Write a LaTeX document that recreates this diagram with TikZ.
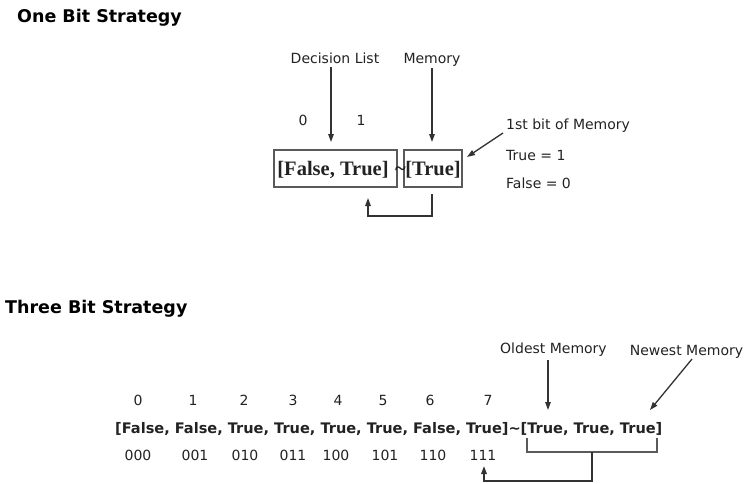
\documentclass[tikz,border=0pt]{standalone}
\usepackage{fontspec}
\setmainfont{DejaVu Sans}
\newfontfamily\boxserif{Liberation Serif}
\usetikzlibrary{arrows.meta}

\definecolor{ink}{HTML}{222222}
\definecolor{linegray}{HTML}{333333}
\definecolor{boxgray}{HTML}{5A5A5A}

\tikzset{
  title/.style={font=\fontsize{17.5}{20}\selectfont\bfseries, anchor=base west, inner sep=0pt, text=black},
  lbl/.style={font=\fontsize{14}{16}\selectfont, anchor=base, inner sep=0pt, text=ink},
  listtxt/.style={font=\fontsize{14.55}{16}\selectfont\bfseries, anchor=base west, inner sep=0pt, text=ink},
  memtxt/.style={font=\boxserif\bfseries\fontsize{20.5}{22}\selectfont, text=ink, inner sep=0pt},
  membox/.style={draw=boxgray, line width=1.8pt, minimum height=37pt, inner sep=0pt},
  arr/.style={draw=linegray, line width=1.3pt, -{Triangle[length=8pt,width=5.5pt]}},
  brk/.style={draw=boxgray, line width=1.6pt},
}

\begin{document}
\begin{tikzpicture}[x=1pt,y=-1pt]
\useasboundingbox (0,0) rectangle (744,483);

% ---------------- one bit strategy ----------------
\node[title] (t1) at (17,22) {One Bit Strategy};

\node[lbl] (dl)  at (335,63) {Decision List};
\node[lbl] (mem) at (432,63) {Memory};
\node[lbl] (i0)  at (303,125) {0};
\node[lbl] (i1)  at (361,125) {1};

\node[membox, minimum width=123pt] (box1) at (335.5,168.5) {};
\node[membox, minimum width=58pt]  (box2) at (433,168.5) {};
\node[memtxt, anchor=base] (txt1) at (333,175) {[False, True]};
\node[memtxt, anchor=base] (tilde) at (400.5,175) {\~{}};
\node[memtxt, anchor=base] (txt2) at (433,175) {[True]};

\coordinate (dltip)  at (331,142);
\coordinate (memtip) at (432,142);
\draw[arr] (dl.south -| dltip) ++(0,4) -- (dltip);
\draw[arr] (mem.south -| memtip) ++(0,2) -- (memtip);

\node[lbl, anchor=base west] (first) at (506,129) {1st bit of Memory};
\node[lbl, anchor=base west] (tv)    at (506,160) {True = 1};
\node[lbl, anchor=base west] (fv)    at (506,188) {False = 0};
\coordinate (firsttip) at (467,157);
\draw[arr] (503,133) -- (firsttip);

% feedback from memory to decision list
\coordinate (loopA) at (432,194);
\coordinate (loopB) at (368,198);
\draw[arr] (loopA) -- ++(0,22) -| (loopB);

% ---------------- three bit strategy ----------------
\node[title] (t3) at (5,313) {Three Bit Strategy};

\node[lbl] (old) at (553.5,353) {Oldest Memory};
\node[lbl] (new) at (686.5,355) {Newest Memory};

\foreach \x/\n [count=\k from 0] in {138/0,193/1,244/2,293/3,338/4,383/5,430/6,488/7}
  \node[lbl] (n\k) at (\x,405) {\n};

\node[listtxt] (lst) at (115,433)
  {[False, False, True, True, True, True, False, True]\~{}[True, True, True]};

\foreach \x/\b [count=\k from 0] in {138/000,195/001,245/010,293/011,336/100,385/101,433/110,483/111}
  \node[lbl] (b\k) at (\x,460) {\b};

\coordinate (oldtip) at (548,410);
\coordinate (newtip) at (650,410);
\draw[arr] (old.south -| oldtip) ++(0,4) -- (oldtip);
\draw[arr] (692,359) -- (newtip);

% bracket under the memory, fed back to entry 111
\coordinate (brL) at (527,438);
\coordinate (brR) at (657,438);
\draw[brk] (brL) -- ++(0,14) -- (657,452) -- (brR);
\coordinate (brM) at (592,452);
\coordinate (backtip) at (484,466);
\draw[brk, -{Triangle[length=8pt,width=5.5pt]}, draw=linegray] (brM) -- ++(0,29) -| (backtip);

\end{tikzpicture}
\end{document}
